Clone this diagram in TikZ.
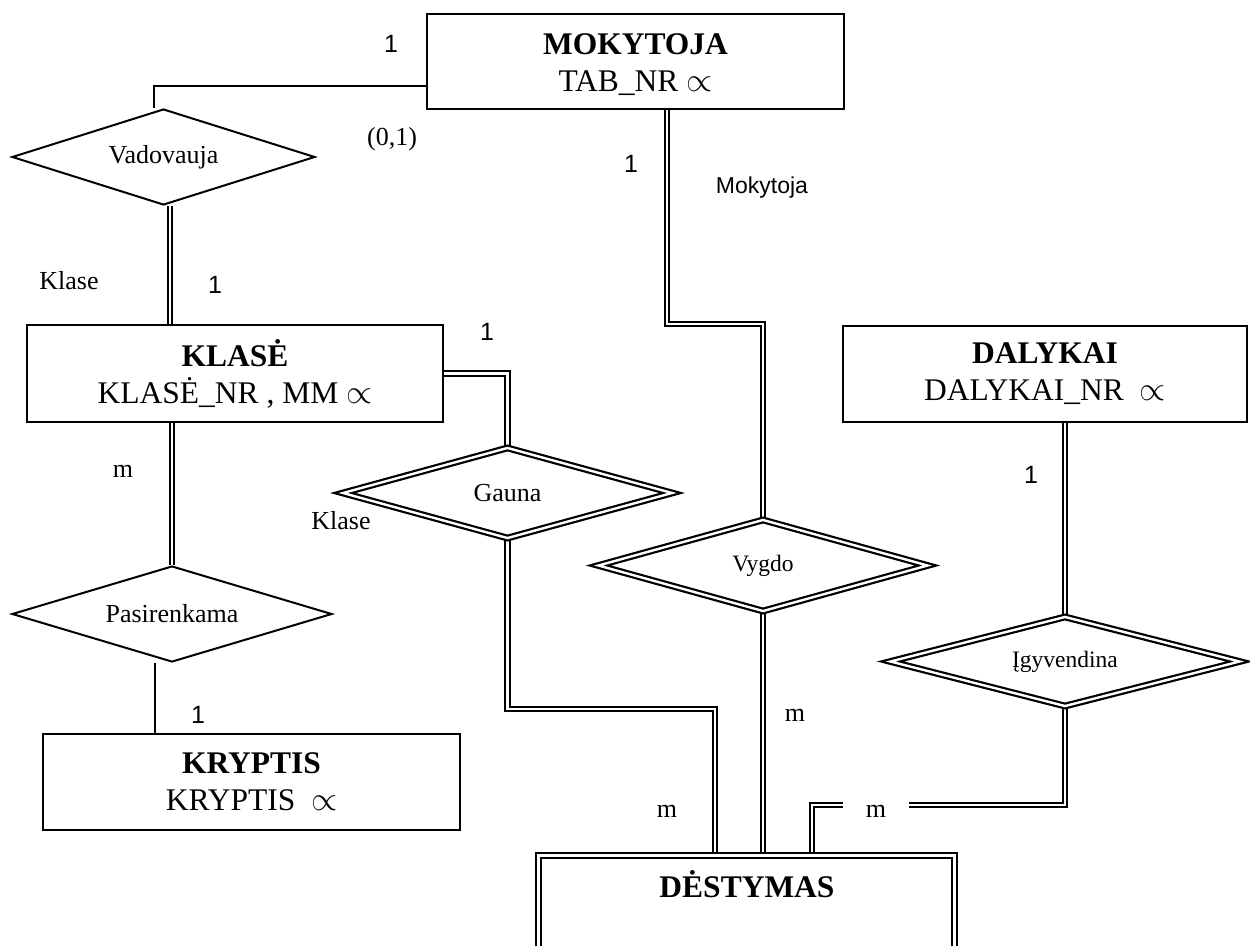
\documentclass[tikz,border=0pt]{standalone}
\usepackage{fontspec}
\setmainfont{Liberation Serif}
\newfontfamily\labelsans{Liberation Sans}
\usetikzlibrary{shapes.geometric,backgrounds}
\newcommand{\keysym}{\scalebox{1.35}{$\propto$}}

\begin{document}
\begin{tikzpicture}[x=1pt,y=-1pt,
  sgl/.style={line width=2pt},
  dbl/.style={double,line width=2.2pt,double distance=2.4pt},
  ent/.style={draw,line width=2pt,rectangle,inner sep=0pt,align=center,
    font=\fontsize{31.5}{37}\selectfont},
  wkent/.style={draw,dbl,rectangle,inner sep=0pt},
  rel/.style={draw,line width=2pt,diamond,aspect=3,inner sep=0pt,
    font=\fontsize{26}{30}\selectfont},
  wkrel/.style={draw,dbl,diamond,aspect=3,inner sep=0pt},
  lab/.style={inner sep=0pt,anchor=base,font=\fontsize{26}{30}\selectfont},
  num/.style={inner sep=0pt,anchor=base,font=\labelsans\fontsize{25}{30}\selectfont},
]
\useasboundingbox (0,0) rectangle (1250,945);
\clip (0,0) rectangle (1250,945);

% entities
\node[ent,minimum width=417pt,minimum height=95pt] (mok) at (635.5,61.5)
  {\rule{0pt}{28pt}\textbf{MOKYTOJA}\\TAB\_NR \keysym};
\node[ent,minimum width=416pt,minimum height=97pt] (kla) at (235,373.5)
  {\textbf{KLASĖ}\\KLASĖ\_NR , MM \keysym};
\node[ent,minimum width=417pt,minimum height=96pt] (kry) at (251.5,782)
  {\textbf{KRYPTIS}\\KRYPTIS \ \keysym};
\node[ent,minimum width=404pt,minimum height=96pt] (dal) at (1045,374)
  {\textbf{DALYKAI}\\DALYKAI\_NR \ \keysym};
\node[wkent,minimum width=416pt,minimum height=149pt] (des) at (746.5,930) {};
\node[inner sep=0pt,anchor=base,font=\fontsize{31.5}{37}\selectfont\bfseries]
  (destitle) at (747,897) {DĖSTYMAS};

% relationships
\node[rel,minimum width=303pt,minimum height=96pt] (vad) at (163.5,157) {Vadovauja};
\node[rel,minimum width=320pt,minimum height=96pt] (pas) at (172,614) {Pasirenkama};
\node[wkrel,minimum width=330pt,minimum height=91pt,
  font=\fontsize{26}{30}\selectfont] (gau) at (507.5,493) {Gauna};
\node[wkrel,minimum width=330pt,minimum height=92pt,
  font=\fontsize{23.5}{28}\selectfont] (vyg) at (763,565.5) {Vygdo};
\node[wkrel,minimum width=350pt,minimum height=90pt,
  font=\fontsize{23.5}{28}\selectfont] (igy) at (1065,661.5) {Įgyvendina};

% cardinality and role labels
\node[num] (n1) at (391,52) {1};
\node[lab] (c01) at (392,145) {(0,1)};
\node[lab] (rk1) at (69,289) {Klase};
\node[num] (n2) at (215,293) {1};
\node[num] (n3) at (631,172) {1};
\node[inner sep=0pt,anchor=base,font=\labelsans\fontsize{23}{28}\selectfont]
  (rmok) at (762,193) {Mokytoja};
\node[num] (n4) at (487,340) {1};
\node[lab] (m1) at (123,477) {m};
\node[lab] (rk2) at (341,529) {Klase};
\node[num] (n5) at (1031,483) {1};
\node[num] (n6) at (198,723) {1};
\node[lab] (m2) at (795,721) {m};
\node[lab] (m3) at (667,817) {m};
\node[lab,minimum width=66pt] (m4) at (876,817) {m};

\begin{pgfonlayer}{background}
\fill[white] (0,0) rectangle (1250,945);
\coordinate (gbend) at (715,709);
\coordinate (mbend) at (667,324);
\coordinate (ibend) at (812,805);
% connectors
\draw[sgl] ([xshift=-9.5pt]vad.north) |- ([yshift=-24.5pt]mok.west);
\draw[dbl] ([xshift=6.5pt]vad.south) -- ([xshift=6.5pt]vad.south |- kla.north);
\draw[dbl] (pas.north |- kla.south) -- (pas.north);
\draw[sgl] ([xshift=-17pt]pas.south) -- ([xshift=-17pt]pas.south |- kry.north);
\draw[dbl] (kla.east) -| (gau.north);
\draw[dbl] (gau.south) |- (gbend) -- (gbend |- des.north);
\draw[dbl] (mbend |- mok.south) -- (mbend) -| (vyg.north);
\draw[dbl] (vyg.south) -- (vyg.south |- des.north);
\draw[dbl] (igy.north |- dal.south) -- (igy.north);
\draw[dbl] (igy.south) |- (m4.east |- ibend);
\draw[dbl] (m4.west |- ibend) -- (ibend) -- (ibend |- des.north);
\end{pgfonlayer}
\end{tikzpicture}
\end{document}
